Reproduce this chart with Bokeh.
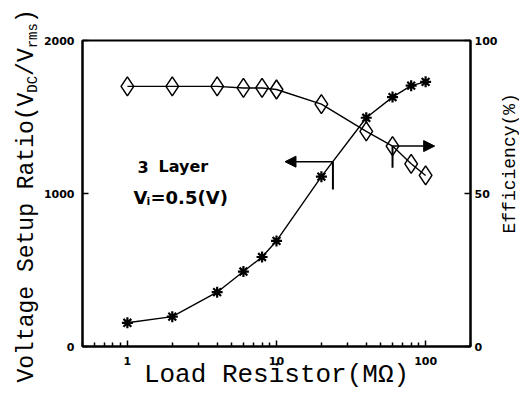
import numpy as np
from bokeh.plotting import figure
from bokeh.layouts import row
from bokeh.models import (Range1d, LinearAxis, FixedTicker, BasicTickFormatter,
                          Label, Arrow, NormalHead)
from bokeh.embed import file_html
from bokeh.resources import INLINE

# ---- data ----
resistance = [1, 2, 4, 6, 8, 10, 20, 40, 60, 80, 100]          # MOhm
setup_ratio = [155, 195, 355, 490, 585, 690, 1110, 1495, 1630, 1705, 1730]
efficiency = [85, 85, 85, 84.5, 84.5, 84, 79.2, 70.3, 65.5, 59.7, 55.9]

x_major_ticks = [1, 10, 100]
left_ticks = [0, 1000, 2000]
right_ticks = [0, 50, 100]

# annotation arrows (data coordinates)
ratio_arrow = dict(x_anchor=23.9, y=1208, x_tip=11.4, y_low=1026)
eff_arrow = dict(x_anchor=60, y=65.5, x_tip=115, y_low=58.4)

TICK_FONT = "DejaVu Sans"
TITLE_FONT = "Liberation Mono"
NOTE_FONT = "DejaVu Sans"
BASE_FIX = 0.24   # em; Bokeh's alphabetic anchor sits a bit above the drawn baseline


def bare(width, height):
    f = figure(width=width, height=height, x_range=Range1d(0, 1), y_range=Range1d(0, 1),
               output_backend="svg", toolbar_location=None,
               x_axis_location=None, y_axis_location=None, min_border=0)
    f.grid.visible = False
    f.outline_line_color = None
    f.background_fill_color = "white"
    f.border_fill_color = "white"
    f.frame_align = False
    return f


def lab(fig, text, x, y, size, font=NOTE_FONT, angle=0.0, style="normal"):
    fix = BASE_FIX * size
    if angle:
        x -= fix
    else:
        y += fix
    fig.add_layout(Label(x=x, y=y, x_units="screen", y_units="screen", text=text,
                         angle=angle, text_font=font, text_font_size=f"{size}px",
                         text_align="left", text_baseline="alphabetic",
                         text_font_style=style, text_color="black"))


p = figure(width=460, height=392, x_axis_type="log",
           x_range=Range1d(0.5, 200), y_range=Range1d(0, 2000),
           output_backend="svg", toolbar_location=None,
           min_border_left=42, min_border_right=29,
           min_border_top=40, min_border_bottom=44)
p.frame_align = False
p.extra_y_ranges = {"eff": Range1d(0, 100)}
p.grid.visible = False
p.outline_line_color = "black"
p.outline_line_width = 2
p.background_fill_color = "white"
p.border_fill_color = "white"

minor = [m * 10.0 ** k for k in (-1, 0, 1, 2) for m in range(2, 10)]
minor = [v for v in minor if 0.5 <= v <= 200]

xa = p.xaxis[0]
xa.ticker = FixedTicker(ticks=x_major_ticks, minor_ticks=minor)
xa.formatter = BasicTickFormatter()
ya = p.yaxis[0]
ya.ticker = FixedTicker(ticks=left_ticks)
ra = LinearAxis(y_range_name="eff", ticker=FixedTicker(ticks=right_ticks))
p.add_layout(ra, "right")

for ax in (xa, ya, ra):
    ax.axis_line_color = "black"
    ax.axis_line_width = 2
    ax.major_tick_line_color = "black"
    ax.major_tick_line_width = 1.5
    ax.major_tick_in = 6
    ax.major_tick_out = 0
    ax.minor_tick_line_color = "black"
    ax.minor_tick_line_width = 1.5
    ax.minor_tick_in = 4
    ax.minor_tick_out = 0
    ax.major_label_text_font = TICK_FONT
    ax.major_label_text_font_style = "bold"
    ax.major_label_text_font_size = "11px"
    ax.major_label_text_color = "black"
xa.major_label_standoff = 10
ya.major_label_standoff = 8
ra.major_label_standoff = 4

xa.axis_label = "Load Resistor(M\u03a9)"
xa.axis_label_text_font = TITLE_FONT
xa.axis_label_text_font_size = "26px"
xa.axis_label_text_font_style = "normal"
xa.axis_label_text_color = "black"
xa.axis_label_standoff = -8

# ---- curves ----
p.line(resistance, setup_ratio, line_color="black", line_width=1.4)
p.scatter(resistance, setup_ratio, marker="asterisk", size=11,
          line_color="black", line_width=2.2)
p.line(resistance, efficiency, y_range_name="eff", line_color="black", line_width=1.4)
p.scatter(resistance, efficiency, y_range_name="eff", marker="diamond", size=19,
          line_color="black", line_width=1.5, fill_alpha=0)

# ---- arrows ----
p.add_layout(Arrow(end=NormalHead(size=11, fill_color="black", line_color="black"),
                   x_start=ratio_arrow["x_anchor"], y_start=ratio_arrow["y"],
                   x_end=ratio_arrow["x_tip"], y_end=ratio_arrow["y"],
                   line_width=1.6, line_color="black"))
p.add_layout(Arrow(end=None, x_start=ratio_arrow["x_anchor"], y_start=ratio_arrow["y"],
                   x_end=ratio_arrow["x_anchor"], y_end=ratio_arrow["y_low"],
                   line_width=2, line_color="black"))
p.add_layout(Arrow(end=NormalHead(size=11, fill_color="black", line_color="black"),
                   x_start=eff_arrow["x_anchor"], y_start=eff_arrow["y"],
                   x_end=eff_arrow["x_tip"], y_end=eff_arrow["y"], y_range_name="eff",
                   line_width=1.6, line_color="black"))
p.add_layout(Arrow(end=None, x_start=eff_arrow["x_anchor"], y_start=eff_arrow["y"],
                   x_end=eff_arrow["x_anchor"], y_end=eff_arrow["y_low"], y_range_name="eff",
                   line_width=2, line_color="black"))

# ---- notes inside the plot ----
lab(p, "3", 55, 176, 16, style="bold")
lab(p, "Layer", 76, 176, 16, style="bold")
lab(p, "V", 51, 145, 18, style="bold")
lab(p, "i", 64, 142, 11, style="bold")
lab(p, "=0.5(V)", 68, 145, 18, style="bold")

# ---- y-axis title with subscripts (own narrow canvas) ----
yfig = bare(40, 392)
MAIN, SUB, ADV = 23, 14, 0.6
pos = 392 - 382
for text, size, drop in [("Voltage Setup Ratio(V", MAIN, 0), ("DC", SUB, 4),
                         ("/V", MAIN, 0), ("rms", SUB, 4), (")", MAIN, 0)]:
    lab(yfig, text, 32 + drop, pos, size, font=TITLE_FONT, angle=np.pi / 2)
    pos += len(text) * size * ADV

# ---- right-axis title ----
rfig = bare(19, 392)
lab(rfig, "Efficiency(%)", 14, 392 - 233, 18, font=TITLE_FONT, angle=np.pi / 2)

layout = row(yfig, p, rfig)
open("out.html", "w").write(file_html(layout, INLINE))
